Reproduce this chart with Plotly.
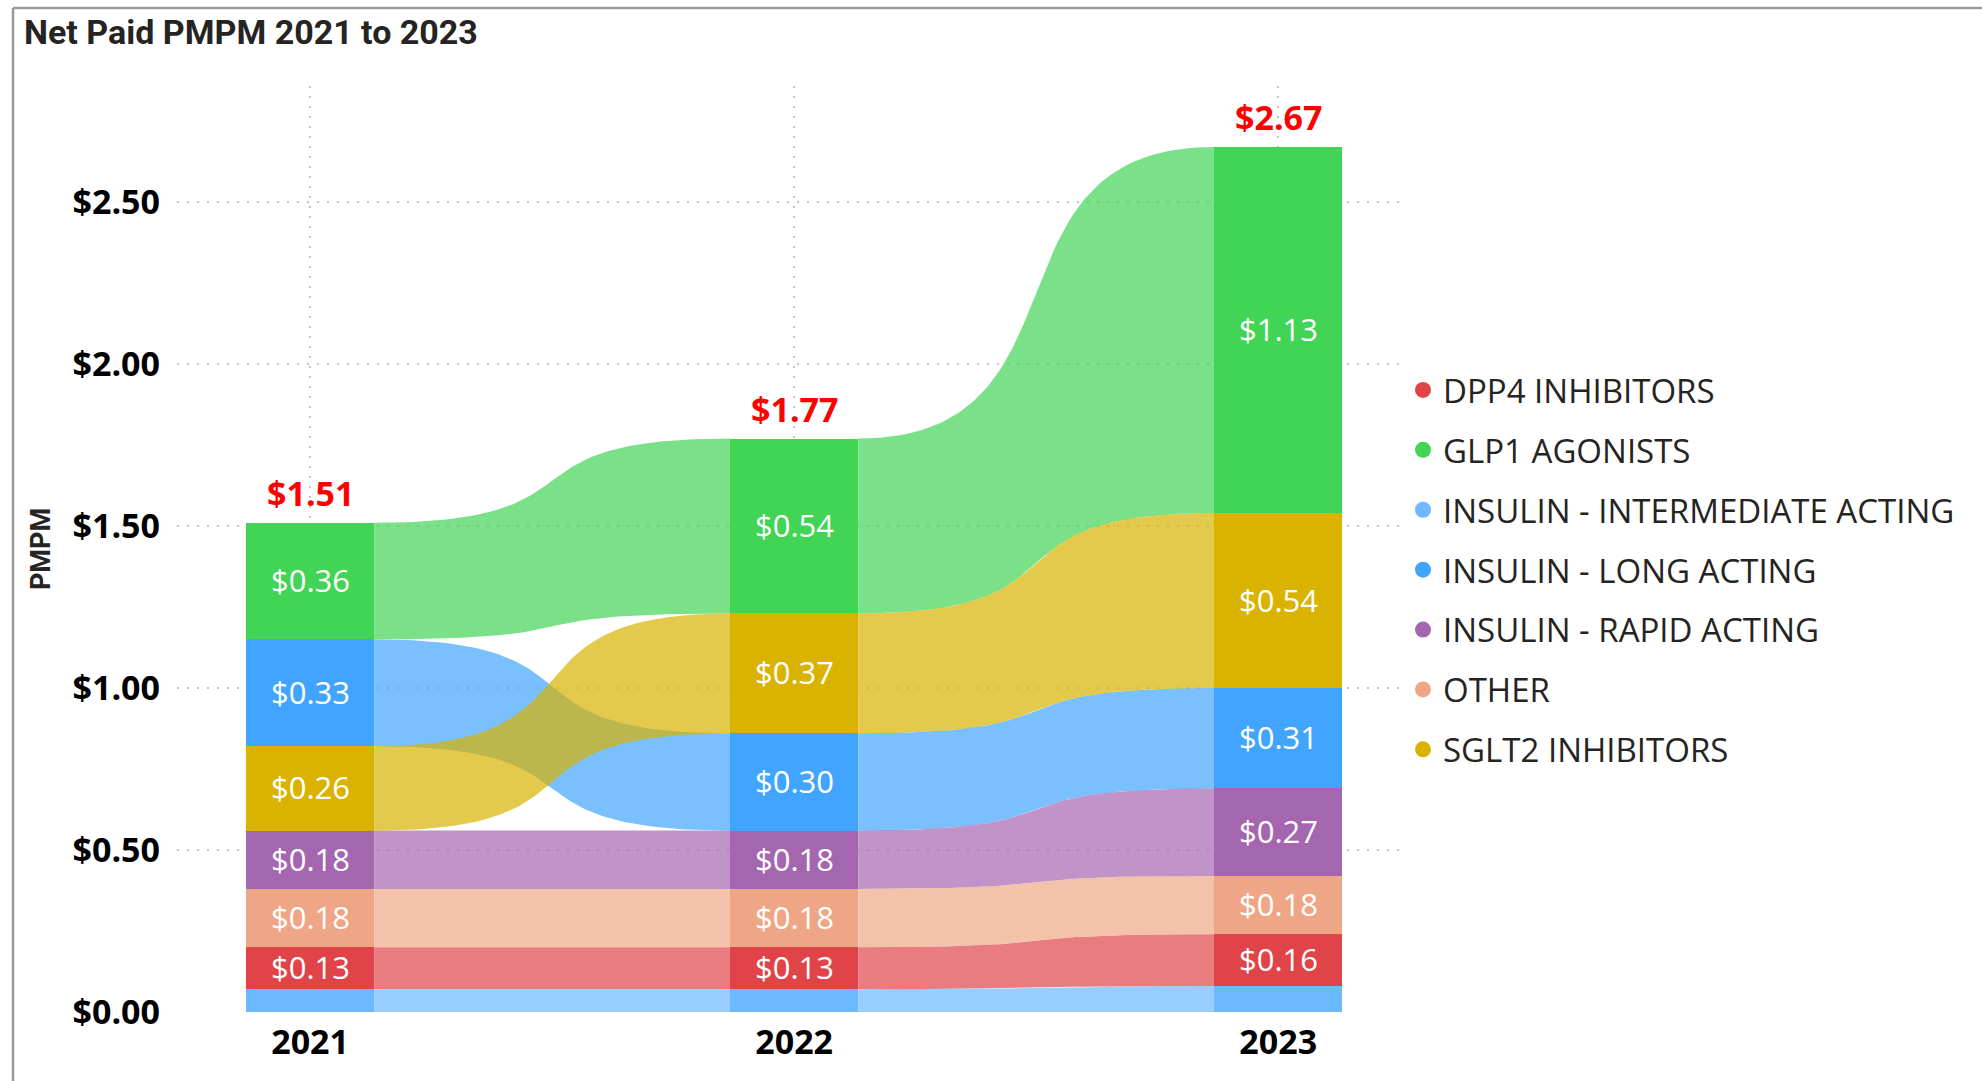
import plotly.graph_objects as go

# ---------------- data ----------------
years = ["2021", "2022", "2023"]

series_names = [
    "DPP4 INHIBITORS",
    "GLP1 AGONISTS",
    "INSULIN - INTERMEDIATE ACTING",
    "INSULIN - LONG ACTING",
    "INSULIN - RAPID ACTING",
    "OTHER",
    "SGLT2 INHIBITORS",
]
dpp4 = [0.13, 0.13, 0.16]
glp1 = [0.36, 0.54, 1.13]
insulin_intermediate = [0.07, 0.07, 0.08]
insulin_long = [0.33, 0.30, 0.31]
insulin_rapid = [0.18, 0.18, 0.27]
other = [0.18, 0.18, 0.18]
sglt2 = [0.26, 0.37, 0.54]

series_values = [dpp4, glp1, insulin_intermediate, insulin_long,
                 insulin_rapid, other, sglt2]

bar_colors = ["#E04448", "#41D455", "#6CB9FF", "#41A5FF",
              "#A566B0", "#EFA686", "#D9B300"]

y_tick_vals = [0, 0.5, 1.0, 1.5, 2.0, 2.5]

# ---------------- styling constants ----------------
BAR_W = 0.2645
RIBBON_ALPHA = 0.7
BEZ_C = 0.68
LABEL_FONT = "Open Sans"
FIG_W, FIG_H = 1982, 1081
M_L, M_R, M_T, M_B = 177, 577, 86, 69


def hex_to_rgba(h, a):
    h = h.lstrip("#")
    r, g, b = int(h[0:2], 16), int(h[2:4], 16), int(h[4:6], 16)
    return f"rgba({r},{g},{b},{a})"


n_years = len(years)
n_series = len(series_names)

# stacking per year: smallest at bottom (ties resolved by reverse legend order)
bottoms = [[0.0] * n_years for _ in range(n_series)]
for j in range(n_years):
    order = sorted(range(n_series), key=lambda k: (series_values[k][j], -k))
    acc = 0.0
    for k in order:
        bottoms[k][j] = acc
        acc += series_values[k][j]
totals = [sum(series_values[k][j] for k in range(n_series)) for j in range(n_years)]
xpos = list(range(n_years))

fig = go.Figure()


def bez(u):
    # cubic bezier with horizontal tangents, control points at BEZ_C
    bx = 3 * (1 - u) ** 2 * u * BEZ_C + 3 * (1 - u) * u ** 2 * (1 - BEZ_C) + u ** 3
    by = 3 * (1 - u) * u ** 2 + u ** 3
    return bx, by


N = 80
us = [i / (N - 1) for i in range(N)]

# ---------------- ribbons ----------------
for k in range(n_series):
    vals = series_values[k]
    for j in range(n_years - 1):
        xl = xpos[j] + BAR_W / 2
        xr = xpos[j + 1] - BAR_W / 2
        b0, b1 = bottoms[k][j], bottoms[k][j + 1]
        t0, t1 = b0 + vals[j], b1 + vals[j + 1]
        xs_top, ys_top, ys_bot = [], [], []
        for u in us:
            bx, by = bez(u)
            xs_top.append(xl + (xr - xl) * bx)
            ys_top.append(t0 + (t1 - t0) * by)
            ys_bot.append(b0 + (b1 - b0) * by)
        fig.add_trace(go.Scatter(
            x=xs_top + xs_top[::-1],
            y=ys_top + ys_bot[::-1],
            mode="lines",
            fill="toself",
            fillcolor=hex_to_rgba(bar_colors[k], RIBBON_ALPHA),
            line=dict(width=0, color="rgba(0,0,0,0)"),
            hoverinfo="skip",
            showlegend=False,
        ))

# ---------------- bars ----------------
for k in range(n_series):
    fig.add_trace(go.Bar(
        x=xpos,
        y=series_values[k],
        base=bottoms[k],
        width=BAR_W,
        marker=dict(color=bar_colors[k], line=dict(width=0)),
        name=series_names[k],
        showlegend=False,
        hovertemplate="%{y:$.2f}<extra>" + series_names[k] + "</extra>",
    ))

# ---------------- legend entries ----------------
for k in range(n_series):
    fig.add_trace(go.Scatter(
        x=[None], y=[None], mode="markers",
        marker=dict(color=bar_colors[k], size=16, symbol="circle"),
        name=series_names[k], legendgroup=series_names[k],
        showlegend=True,
    ))

# ---------------- segment labels ----------------
for k in range(n_series):
    for j in range(n_years):
        v = series_values[k][j]
        if v >= 0.1:
            fig.add_annotation(
                x=xpos[j], y=bottoms[k][j] + v / 2, text=f"${v:.2f}",
                showarrow=False, xanchor="center", yanchor="middle", yshift=1,
                font=dict(family=LABEL_FONT, size=31, color="white"),
            )

# ---------------- totals ----------------
for j in range(n_years):
    fig.add_annotation(
        x=xpos[j], y=totals[j], text=f"<b>${totals[j]:.2f}</b>",
        showarrow=False, yanchor="bottom", yshift=5,
        font=dict(family=LABEL_FONT, size=34, color="#FF0000"),
    )

plot_w = FIG_W - M_L - M_R
plot_h = FIG_H - M_T - M_B


def px_to_paper_x(px):
    return (px - M_L) / plot_w


def px_to_paper_y(py):
    return (FIG_H - M_B - py) / plot_h


# visual frame (left and top border)
frame_col = "#9A9A9A"
fig.add_shape(type="line", xref="paper", yref="paper",
              x0=px_to_paper_x(13), x1=px_to_paper_x(13),
              y0=px_to_paper_y(FIG_H + 5), y1=px_to_paper_y(8),
              line=dict(color=frame_col, width=2.5))
fig.add_shape(type="line", xref="paper", yref="paper",
              x0=px_to_paper_x(13), x1=px_to_paper_x(FIG_W + 5),
              y0=px_to_paper_y(8), y1=px_to_paper_y(8),
              line=dict(color=frame_col, width=2.5))

grid_col = "#C4C4C4"
fig.update_layout(
    width=FIG_W, height=FIG_H,
    margin=dict(l=M_L, r=M_R, t=M_T, b=M_B, pad=0),
    paper_bgcolor="white", plot_bgcolor="white",
    barmode="overlay",
    bargap=0,
    title=dict(
        text="<b>Net Paid PMPM 2021 to 2023</b>",
        font=dict(family="Roboto", size=34, color="#252423"),
        xref="container", yref="container",
        x=24 / FIG_W, xanchor="left",
        y=1 - 32 / FIG_H, yanchor="middle",
    ),
    xaxis=dict(
        tickmode="array", tickvals=xpos, ticktext=[f"<b>{y}</b>" for y in years],
        range=[-0.275, 2.262],
        showgrid=True, gridcolor=grid_col, griddash="2px,8px", gridwidth=1.5,
        zeroline=False, showline=False, ticks="",
        tickfont=dict(family=LABEL_FONT, size=34, color="#000000"),
        ticklabelstandoff=7,
        fixedrange=True,
    ),
    yaxis=dict(
        tickmode="array", tickvals=y_tick_vals,
        ticktext=[f"<b>${v:.2f}</b>" for v in y_tick_vals],
        range=[0, (FIG_H - M_B - M_T) / 324.0],
        showgrid=True, gridcolor=grid_col, griddash="2px,8px", gridwidth=1.5,
        zeroline=False, showline=False, ticks="",
        tickfont=dict(family=LABEL_FONT, size=34, color="#000000"),
        ticklabelstandoff=16,
        title=dict(text="<b>PMPM</b>", standoff=14,
                   font=dict(family="Roboto", size=27, color="#252423")),
        fixedrange=True,
    ),
    legend=dict(
        x=px_to_paper_x(1403), xanchor="left",
        y=px_to_paper_y(570), yanchor="middle",
        font=dict(family=LABEL_FONT, size=33, color="#252423"),
        traceorder="grouped", tracegroupgap=14,
        bgcolor="rgba(0,0,0,0)", borderwidth=0,
        itemclick=False, itemdoubleclick=False,
    ),
    showlegend=True,
)

fig.write_html(
    "out.html",
    include_plotlyjs=True,
    config={"displayModeBar": False},
    post_script="document.body.style.margin='0px';document.body.style.overflow='hidden';",
)
